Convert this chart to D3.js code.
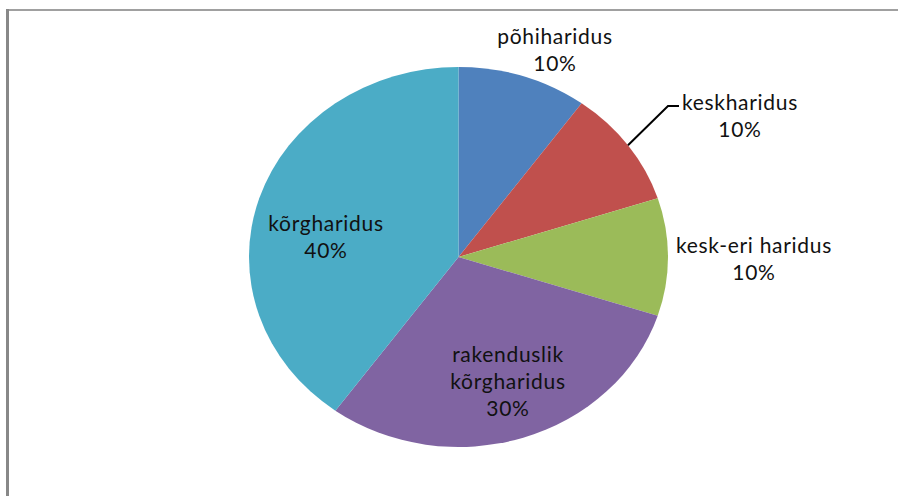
<!DOCTYPE html>
<html>
<head>
<meta charset="utf-8">
<script src="https://cdn.jsdelivr.net/npm/d3@7"></script>
<style>
  body { margin: 0; background: #fff; }
  text { font-family: Lato, "Open Sans", sans-serif; font-size: 21px; letter-spacing: 0.7px; fill: #111; }
</style>
</head>
<body>
<div id="chart"></div>
<script>
const categories = ['põhiharidus', 'keskharidus', 'kesk-eri haridus', 'rakenduslik kõrgharidus', 'kõrgharidus'];
const values = [10, 10, 10, 30, 40];
const percentLabels = ['10%', '10%', '10%', '30%', '40%'];
const colors = ['#4F81BD', '#C0504D', '#9BBB59', '#8064A2', '#4BACC6'];

// label lines, split like the original
const labelLines = [['põhiharidus'], ['keskharidus'], ['kesk-eri haridus'], ['rakenduslik', 'kõrgharidus'], ['kõrgharidus']];
// label block centres (page coords)
const labelPos = [[555, 50], [740, 116], [754, 259], [508, 382], [326, 237]];

const width = 898;
const height = 496;
const cx = 458.5, cy = 257;
const rx = 209.5, ry = 190;

const svg = d3.select('#chart')
    .append('svg')
    .attr('width', width)
    .attr('height', height);

// frame
svg.append('line')
    .attr('x1', 6).attr('x2', width).attr('y1', 10).attr('y2', 10)
    .attr('stroke', '#a0a0a0').attr('stroke-width', 2);
svg.append('line')
    .attr('x1', 7.5).attr('x2', 7.5).attr('y1', 9).attr('y2', height)
    .attr('stroke', '#888').attr('stroke-width', 3);

const data = categories.map((c, i) => ({ category: c, value: values[i] }));

const pie = d3.pie()
    .value(d => d.value)
    .sort(null);

const arcs = pie(data);

const arc = d3.arc()
    .innerRadius(0)
    .outerRadius(rx);

const g = svg.append('g')
    .attr('transform', `translate(${cx},${cy}) scale(1,${ry / rx})`);

g.selectAll('path')
    .data(arcs)
    .enter()
    .append('path')
    .attr('d', arc)
    .attr('fill', (d, i) => colors[i]);

// leader line for keskharidus
const mid = (arcs[1].startAngle + arcs[1].endAngle) / 2;
const ex = cx + rx * Math.sin(mid);
const ey = cy - ry * Math.cos(mid);
svg.append('polyline')
    .attr('points', `${ex},${ey} ${668},${106} ${679},${106}`)
    .attr('fill', 'none')
    .attr('stroke', '#000')
    .attr('stroke-width', 2);

const lineH = 27;
arcs.forEach((d, i) => {
    const lines = labelLines[i].concat([percentLabels[i]]);
    const [x, y] = labelPos[i];
    const y0 = y - (lines.length - 1) * lineH / 2;
    const t = svg.append('text')
        .attr('text-anchor', 'middle');
    lines.forEach((l, j) => {
        t.append('tspan')
            .attr('x', x)
            .attr('y', y0 + j * lineH)
            .attr('dy', '0.35em')
            .text(l);
    });
});
</script>
</body>
</html>
